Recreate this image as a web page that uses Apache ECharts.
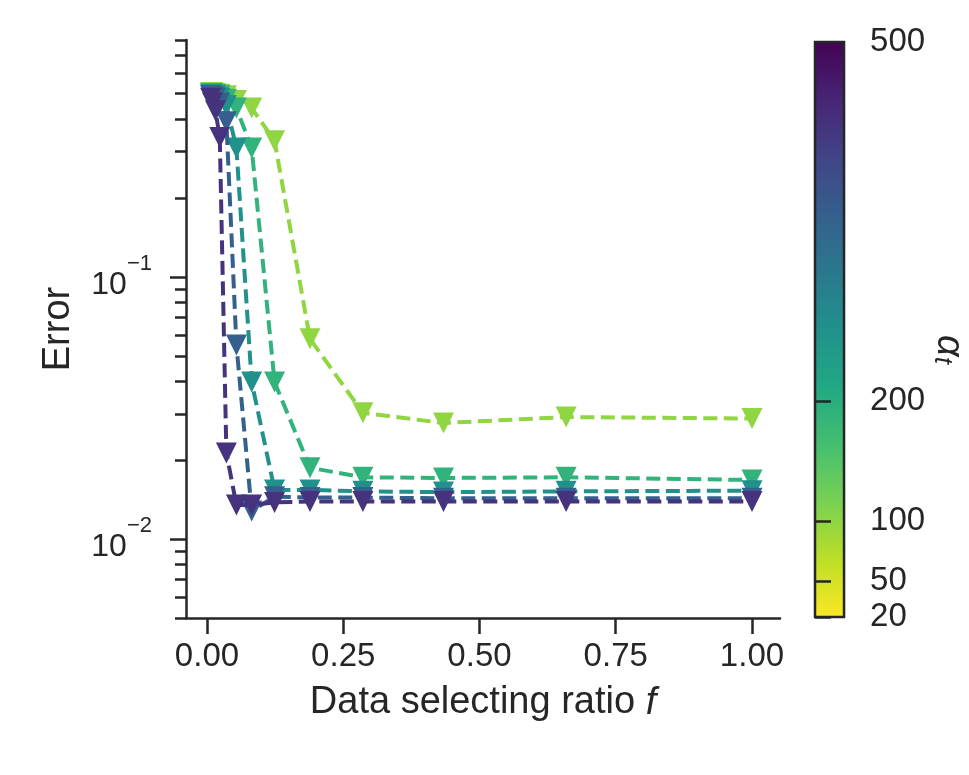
<!DOCTYPE html>
<html>
<head>
<meta charset="utf-8">
<script src="https://cdn.jsdelivr.net/npm/echarts@6/dist/echarts.min.js"></script>
<style>
html, body { margin: 0; padding: 0; background: #fff; }
#chart { width: 969px; height: 775px; }
</style>
</head>
<body>
<div id="chart"></div>
<script>
// data selecting ratio f, shared by every curve
var ratios = [0.0067, 0.0102, 0.0155, 0.0235, 0.0356, 0.054, 0.082, 0.124, 0.189, 0.286, 0.434, 0.659, 1.0];
// alpha_t of each curve (sets its colour on the colour bar)
var alphas = [100, 190, 260, 355, 430];
// error per curve
var errAlpha100 = [0.505, 0.505, 0.50, 0.497, 0.49, 0.47, 0.44, 0.33, 0.058, 0.0303, 0.0277, 0.0292, 0.0288];
var errAlpha190 = [0.50, 0.50, 0.495, 0.49, 0.475, 0.44, 0.31, 0.0397, 0.0187, 0.0172, 0.0171, 0.0172, 0.0168];
var errAlpha260 = [0.495, 0.495, 0.49, 0.48, 0.45, 0.31, 0.0397, 0.0154, 0.0154, 0.0152, 0.0151, 0.0152, 0.0153];
var errAlpha355 = [0.49, 0.485, 0.48, 0.46, 0.39, 0.055, 0.0128, 0.0145, 0.0144, 0.0144, 0.0143, 0.0143, 0.0143];
var errAlpha430 = [0.48, 0.46, 0.43, 0.34, 0.0213, 0.0135, 0.0135, 0.0138, 0.0139, 0.0139, 0.0139, 0.0139, 0.0139];
var errors = [errAlpha100, errAlpha190, errAlpha260, errAlpha355, errAlpha430];

var xTicks = [0, 0.25, 0.5, 0.75, 1.0];
var yMajor = [0.01, 0.1];
var yMinor = [0.005, 0.006, 0.007, 0.008, 0.009, 0.02, 0.03, 0.04, 0.05, 0.06, 0.07, 0.08, 0.09,
              0.2, 0.3, 0.4, 0.5, 0.6, 0.7, 0.8];
var cbarTicks = [20, 50, 100, 200, 500];
var cbarMin = 20, cbarMax = 500;

var viridisStops = ['#440154', '#482475', '#414487', '#355f8d', '#2a788e', '#21918c',
                    '#22a884', '#44bf70', '#7ad151', '#bddf26', '#fde725'];

function hexToRgb(h) {
    return [parseInt(h.substr(1, 2), 16), parseInt(h.substr(3, 2), 16), parseInt(h.substr(5, 2), 16)];
}
function viridis(t) {
    t = Math.max(0, Math.min(1, t));
    var p = t * (viridisStops.length - 1);
    var i = Math.min(Math.floor(p), viridisStops.length - 2);
    var f = p - i;
    var a = hexToRgb(viridisStops[i]), b = hexToRgb(viridisStops[i + 1]);
    var c = a.map(function (v, k) { return Math.round(v + (b[k] - v) * f); });
    return 'rgb(' + c.join(',') + ')';
}
// colour bar runs purple (500) at top to yellow (20) at bottom
function alphaColor(a) {
    return viridis((cbarMax - a) / (cbarMax - cbarMin));
}

var ink = '#262626';
var font = 'Liberation Sans';

var series = errors.map(function (err, k) {
    return {
        type: 'line',
        xAxisIndex: 0,
        yAxisIndex: 0,
        z: 2 + k,
        data: ratios.map(function (r, i) { return [r, err[i]]; }),
        symbol: 'triangle',
        symbolRotate: 180,
        symbolSize: 21,
        itemStyle: { color: alphaColor(alphas[k]) },
        lineStyle: { color: alphaColor(alphas[k]), width: 4, type: [14, 6.5] }
    };
});

var gradStops = viridisStops.map(function (c, i) {
    return { offset: i / (viridisStops.length - 1), color: c };
});

var chart = echarts.init(document.getElementById('chart'));
chart.setOption({
    animation: false,
    backgroundColor: '#fff',
    textStyle: { fontFamily: font, color: ink },
    grid: [
        { left: 186, right: 189, top: 40, bottom: 157 },
        {
            left: 815, right: 124, top: 42, bottom: 158, show: true,
            borderColor: ink, borderWidth: 2.5,
            backgroundColor: new echarts.graphic.LinearGradient(0, 0, 0, 1, gradStops)
        }
    ],
    xAxis: [
        {
            type: 'value', gridIndex: 0, min: -0.0385, max: 1.0514,
            name: 'Data selecting ratio {i|f}', nameLocation: 'middle', nameGap: 66,
            nameTextStyle: {
                fontSize: 38, color: ink,
                rich: { i: { fontSize: 38, fontStyle: 'italic', color: ink } }
            },
            axisLine: { show: true, onZero: false, lineStyle: { color: ink, width: 2.5 } },
            axisTick: { show: true, length: 16, lineStyle: { color: ink, width: 2.5 }, customValues: xTicks },
            axisLabel: {
                fontSize: 33, color: ink, margin: 22, customValues: xTicks,
                formatter: function (v) { return v.toFixed(2); }
            },
            splitLine: { show: false }
        },
        { type: 'value', gridIndex: 1, show: false, min: 0, max: 1 }
    ],
    yAxis: [
        {
            type: 'log', gridIndex: 0, position: 'left', min: 0.005, max: 0.8,
            name: 'Error', nameLocation: 'middle', nameGap: 108,
            nameTextStyle: { fontSize: 38, color: ink },
            axisLine: { show: true, onZero: false, lineStyle: { color: ink, width: 2.5 } },
            axisTick: { show: true, length: 16, lineStyle: { color: ink, width: 2.5 }, customValues: yMajor },
            axisLabel: {
                margin: 34, customValues: yMajor,
                formatter: function (v) {
                    var e = Math.round(Math.log10(v));
                    return '{b|10}{s|\u2212' + Math.abs(e) + '}';
                },
                rich: {
                    b: { fontSize: 32, color: ink, verticalAlign: 'bottom', padding: [16, 0, 0, 0] },
                    s: { fontSize: 22, color: ink, verticalAlign: 'top' }
                }
            },
            splitLine: { show: false }
        },
        {
            type: 'log', gridIndex: 0, position: 'left', offset: 0, min: 0.005, max: 0.8,
            axisLine: { show: false, onZero: false },
            axisTick: { show: true, length: 11, lineStyle: { color: ink, width: 2.5 }, customValues: yMinor },
            axisLabel: { show: false },
            splitLine: { show: false }
        },
        {
            type: 'value', gridIndex: 1, position: 'right', min: cbarMin, max: cbarMax,
            name: '{a|\u03b1}{t|t}', nameLocation: 'middle', nameGap: 84, nameRotate: -90,
            nameTextStyle: {
                color: ink, padding: [0, 0, 0, 40],
                rich: {
                    a: { fontSize: 38, fontStyle: 'italic', color: ink },
                    t: { fontSize: 26, fontStyle: 'italic', color: ink, verticalAlign: 'bottom', padding: [14, 0, 0, 0] }
                }
            },
            axisLine: { show: false },
            axisTick: { show: true, length: 16, lineStyle: { color: ink, width: 2.5 }, customValues: cbarTicks },
            axisLabel: { fontSize: 33, color: ink, margin: 26, customValues: cbarTicks },
            splitLine: { show: false }
        }
    ],
    series: series
});
</script>
</body>
</html>
